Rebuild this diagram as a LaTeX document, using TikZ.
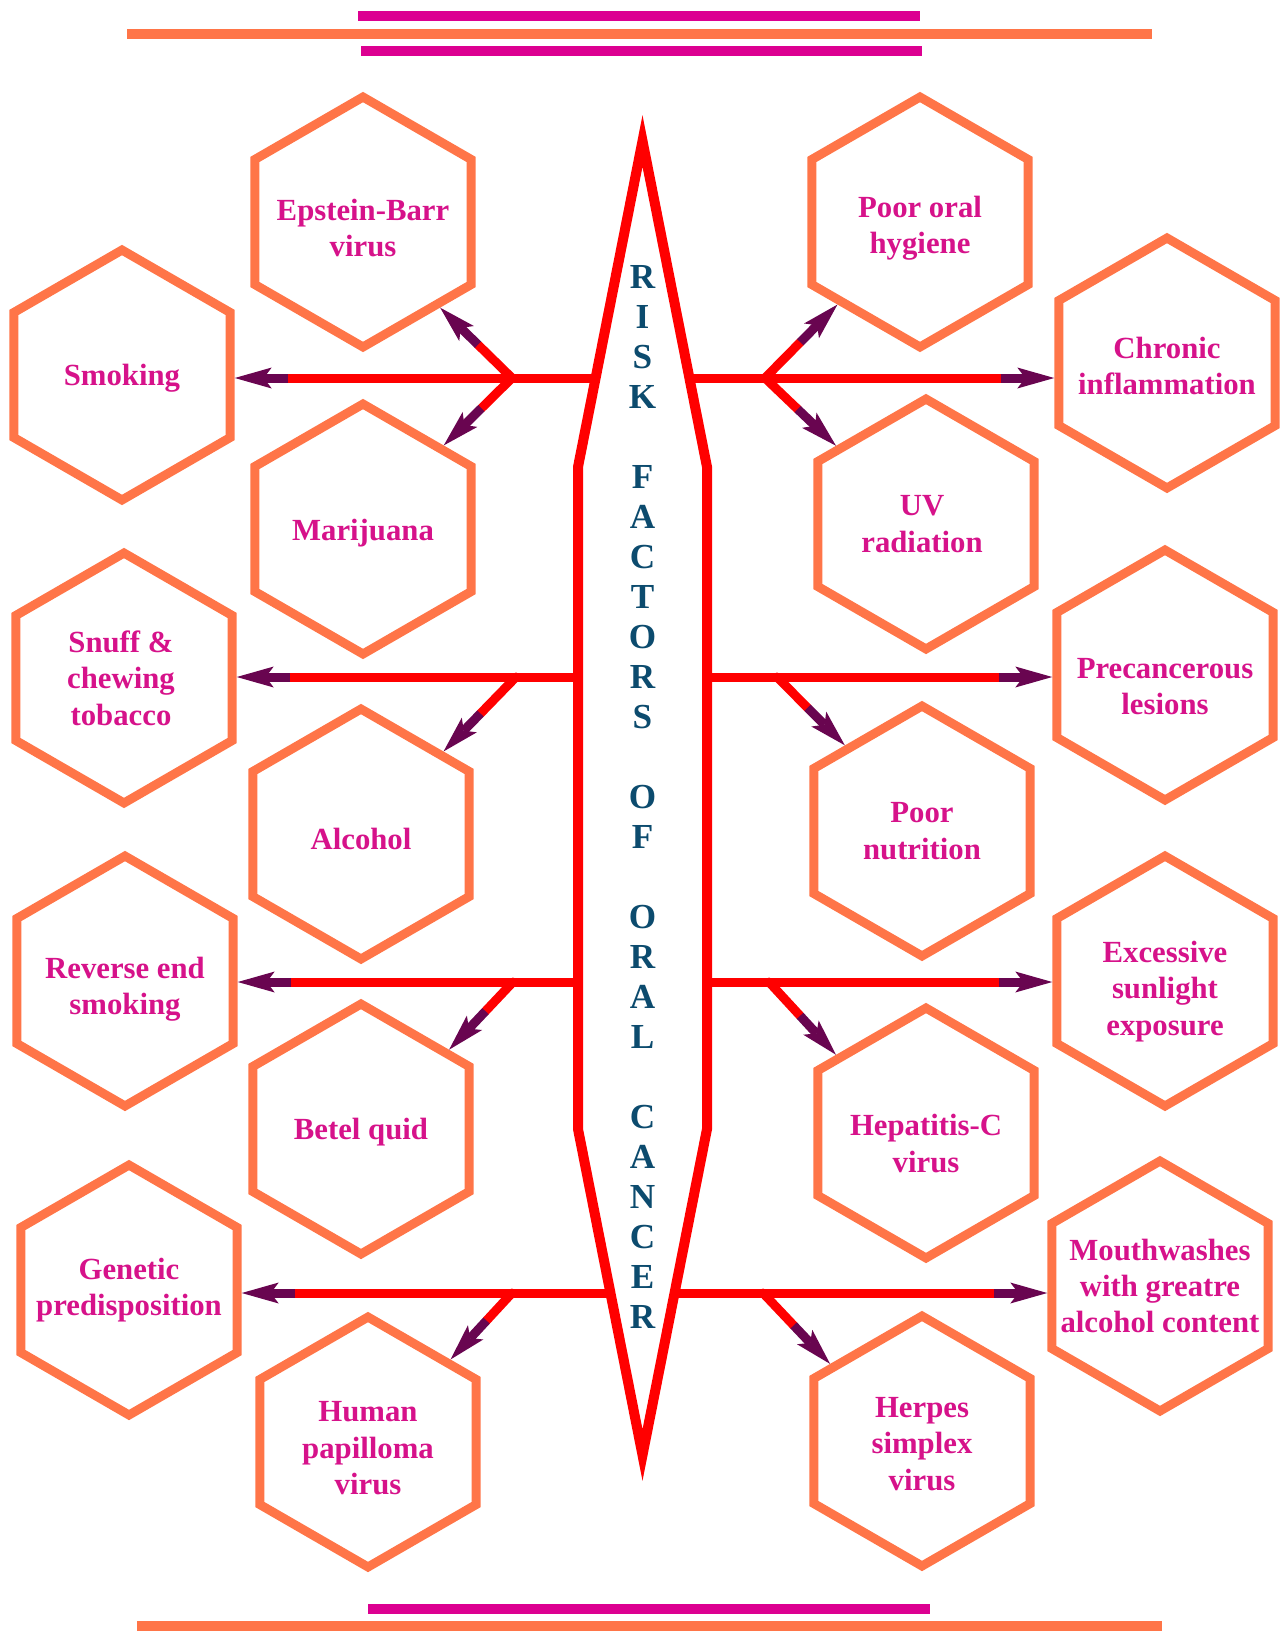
\documentclass[tikz,border=0pt]{standalone}
\usepackage{fontspec}
\setmainfont{Liberation Serif}
\usetikzlibrary{arrows.meta,calc,shapes.geometric}
\definecolor{hexorange}{RGB}{255,117,72}
\definecolor{hexmagenta}{RGB}{214,18,138}
\definecolor{barmagenta}{RGB}{220,0,145}
\definecolor{headpurple}{RGB}{105,5,80}
\definecolor{titleblue}{RGB}{12,75,110}
% red shaft, purple end with the head
\newcommand{\riskarrow}[2]{%
  \draw[riskline] (#1) -- ($(#2)!1.06cm!(#1)$);
  \draw[riskhead] ($(#2)!1.06cm!(#1)$) -- (#2);}

\begin{document}
\begin{tikzpicture}[x=0.02cm,y=-0.02cm,
  hexa/.style={regular polygon,regular polygon sides=6,shape border rotate=30,
    minimum size=5cm,inner sep=0pt,draw=hexorange,line width=0.18cm},
  hextext/.style={text=hexmagenta,font=\fontsize{17.5}{20.7}\selectfont\bfseries,align=center},
  riskline/.style={draw=red,line width=0.18cm,line cap=round},
  riskhead/.style={draw=headpurple,line width=0.18cm,
    -{Stealth[length=0.74cm,width=0.42cm,inset=0.16cm,line width=0pt]}},
  spindle/.style={draw=red,fill=white,line width=0.2cm},
  title/.style={text=titleblue,font=\fontsize{20}{22.75}\selectfont\bfseries,align=center},
  bar/.style={line width=0.2cm}]
\useasboundingbox (0,0) rectangle (1283,1636);

% bars top and bottom
\draw[bar,barmagenta] (358,16) -- (920,16);
\draw[bar,hexorange] (127,34) -- (1152,34);
\draw[bar,barmagenta] (361,51) -- (922,51);
\draw[bar,barmagenta] (368,1609) -- (930,1609);
\draw[bar,hexorange] (137,1626) -- (1162,1626);

% left hexagons
\node[hexa,label={[hextext,yshift=-0.125cm]center:Epstein-Barr\\virus}] (ebv) at (363,222) {};
\node[hexa,label={[hextext,yshift=-0.06cm]center:Smoking}] (smoking) at (122,375) {};
\node[hexa,label={[hextext,yshift=-0.08cm]center:Marijuana}] (marijuana) at (363,529) {};
\node[hexa,label={[hextext,xshift=-0.06cm]center:Snuff \&\\chewing\\tobacco}] (snuff) at (124,678) {};
\node[hexa,label={[hextext,yshift=-0.1cm]center:Alcohol}] (alcohol) at (361,834) {};
\node[hexa,label={[hextext,yshift=-0.17cm]center:Reverse end\\smoking}] (reverse) at (125,981) {};
\node[hexa,label={[hextext,yshift=-0.06cm]center:Betel quid}] (betel) at (361,1129) {};
\node[hexa,label={[hextext]center:Genetic\\predisposition}] (genetic) at (129,1290) {};
\node[hexa,label={[hextext,yshift=-0.125cm]center:Human\\papilloma\\virus}] (hpv) at (368,1442) {};

% right hexagons
\node[hexa,label={[hextext,yshift=-0.125cm]center:Poor oral\\hygiene}] (hygiene) at (920,222) {};
\node[hexa,label={[hextext,yshift=-0.06cm]center:Chronic\\inflammation}] (inflammation) at (1167,363) {};
\node[hexa,label={[hextext,xshift=-0.08cm]center:UV\\radiation}] (uv) at (926,524) {};
\node[hexa,label={[hextext,yshift=-0.23cm]center:Precancerous\\lesions}] (lesions) at (1165,675) {};
\node[hexa,label={[hextext]center:Poor\\nutrition}] (nutrition) at (922,831) {};
\node[hexa,label={[hextext,yshift=-0.21cm]center:Excessive\\sunlight\\exposure}] (sunlight) at (1165,981) {};
\node[hexa,label={[hextext,yshift=-0.21cm]center:Hepatitis-C\\virus}] (hepatitis) at (926,1133) {};
\node[hexa,label={[hextext]center:Mouthwashes\\with greatre\\alcohol content}] (mouthwash) at (1160,1286) {};
\node[hexa,label={[hextext,yshift=-0.06cm]center:Herpes\\simplex\\virus}] (herpes) at (922,1441) {};

% rows and branch points
\coordinate (row1) at (642.5,378);
\coordinate (row2) at (642.5,677);
\coordinate (row3) at (642.5,982);
\coordinate (row4) at (642.5,1293);
\coordinate (b1l) at (512,378);
\coordinate (b1r) at (765,378);
\coordinate (b2l) at (516,677);
\coordinate (b2r) at (777,677);
\coordinate (b3l) at (513,982);
\coordinate (b3r) at (769,982);
\coordinate (b4l) at (512,1293);
\coordinate (b4r) at (763,1293);
\coordinate (smokingtip) at (row1 -| smoking.east);
\coordinate (inflamtip) at (row1 -| inflammation.west);
\coordinate (snufftip) at (row2 -| snuff.east);
\coordinate (lesionstip) at (row2 -| lesions.west);
\coordinate (reversetip) at (row3 -| reverse.east);
\coordinate (sunlighttip) at (row3 -| sunlight.west);
\coordinate (genetictip) at (row4 -| genetic.east);
\coordinate (mouthwashtip) at (row4 -| mouthwash.west);

% arrows
\riskarrow{row1}{smokingtip}
\riskarrow{row1}{inflamtip}
\riskarrow{b1l}{ebv.-48}
\riskarrow{b1l}{marijuana.46}
\riskarrow{b1r}{hygiene.-135}
\riskarrow{b1r}{uv.139}
\riskarrow{row2}{snufftip}
\riskarrow{row2}{lesionstip}
\riskarrow{b2l}{alcohol.45}
\riskarrow{b2r}{nutrition.132}
\riskarrow{row3}{reversetip}
\riskarrow{row3}{sunlighttip}
\riskarrow{b3l}{betel.42}
\riskarrow{b3r}{hepatitis.139}
\riskarrow{row4}{genetictip}
\riskarrow{row4}{mouthwashtip}
\riskarrow{b4l}{hpv.45}
\riskarrow{b4r}{herpes.140}

% central spindle
\draw[spindle] (642.5,141) -- (707,467) -- (707,1129) -- (642.5,1455)
  -- (578,1129) -- (578,467) -- cycle;
\node[title] (title) at (642.5,797) {R\\I\\S\\K\\[22.75pt]F\\A\\C\\T\\O\\R\\S\\[22.75pt]O\\F\\[22.75pt]O\\R\\A\\L\\[22.75pt]C\\A\\N\\C\\E\\R};
\end{tikzpicture}
\end{document}
